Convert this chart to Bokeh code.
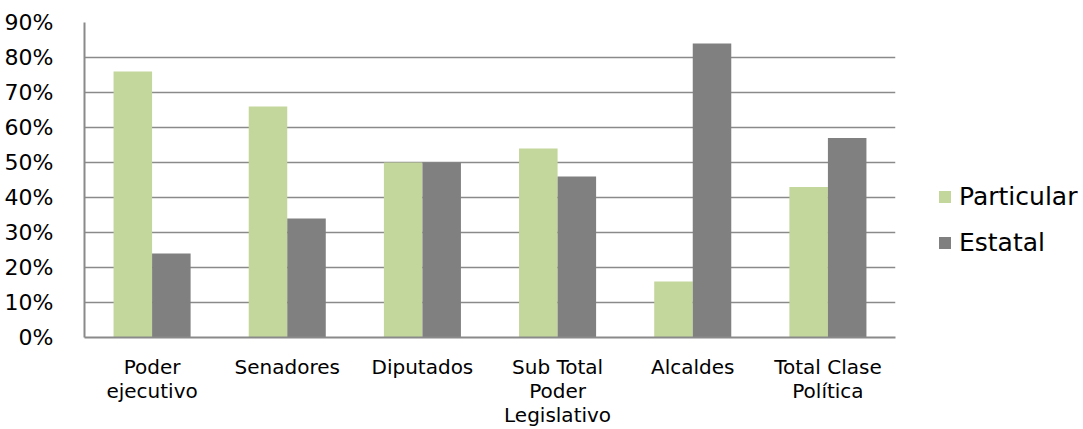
from bokeh.plotting import figure
from bokeh.models import ColumnDataSource, NumeralTickFormatter, Legend, LegendItem, FixedTicker
from bokeh.transform import dodge
from bokeh.embed import file_html
from bokeh.resources import INLINE

categories = ["Poder\nejecutivo", "Senadores", "Diputados", "Sub Total\nPoder\nLegislativo", "Alcaldes", "Total Clase\nPolítica"]
particular = [0.76, 0.66, 0.50, 0.54, 0.16, 0.43]
estatal = [0.24, 0.34, 0.50, 0.46, 0.84, 0.57]
y_ticks = [0.0, 0.1, 0.2, 0.3, 0.4, 0.5, 0.6, 0.7, 0.8, 0.9]

FONT = "DejaVu Sans"
src = ColumnDataSource(dict(cat=categories, particular=particular, estatal=estatal))

p = figure(x_range=categories, y_range=(0, 0.9), frame_width=811, frame_height=315,
           output_backend="svg", toolbar_location=None,
           min_border_left=84, min_border_right=188, min_border_top=22, min_border_bottom=92)
p.outline_line_color = None
p.background_fill_color = "white"

bw = 0.285
r1 = p.vbar(x=dodge("cat", -bw / 2, range=p.x_range), top="particular", width=bw, source=src,
            fill_color="#C3D69B", line_color=None)
r2 = p.vbar(x=dodge("cat", bw / 2, range=p.x_range), top="estatal", width=bw, source=src,
            fill_color="#808080", line_color=None)

p.xgrid.grid_line_color = None
p.ygrid.grid_line_color = "#8a8a8a"
p.ygrid.grid_line_width = 1.5
p.ygrid.ticker = FixedTicker(ticks=y_ticks)
p.yaxis.ticker = FixedTicker(ticks=y_ticks)
p.yaxis.formatter = NumeralTickFormatter(format="0%")
p.yaxis.major_label_text_font = FONT
p.yaxis.major_label_text_font_size = "22px"
p.yaxis.major_label_text_color = "#000000"
p.yaxis.major_label_standoff = 25
p.yaxis.axis_line_color = "#8a8a8a"
p.yaxis.axis_line_width = 2
p.yaxis.major_tick_line_color = None
p.yaxis.minor_tick_line_color = None

p.xaxis.major_label_text_font = FONT
p.xaxis.major_label_text_font_size = "20px"
p.xaxis.major_label_text_color = "#000000"
p.xaxis.major_label_text_line_height = 1.0
p.xaxis.major_label_standoff = 11
p.xaxis.axis_line_color = "#8a8a8a"
p.xaxis.axis_line_width = 2
p.xaxis.major_tick_line_color = None
p.xaxis.minor_tick_line_color = None

legend = Legend(items=[LegendItem(label="Particular", renderers=[r1]),
                       LegendItem(label="Estatal", renderers=[r2])],
                location=(42, 80), border_line_color=None, background_fill_alpha=0,
                padding=0, margin=0, spacing=17, glyph_width=15, glyph_height=15,
                label_standoff=7, label_text_font=FONT, label_text_font_size="25px",
                label_text_color="#000000", label_height=22)
p.add_layout(legend, "right")

open("out.html", "w").write(file_html(p, INLINE))
